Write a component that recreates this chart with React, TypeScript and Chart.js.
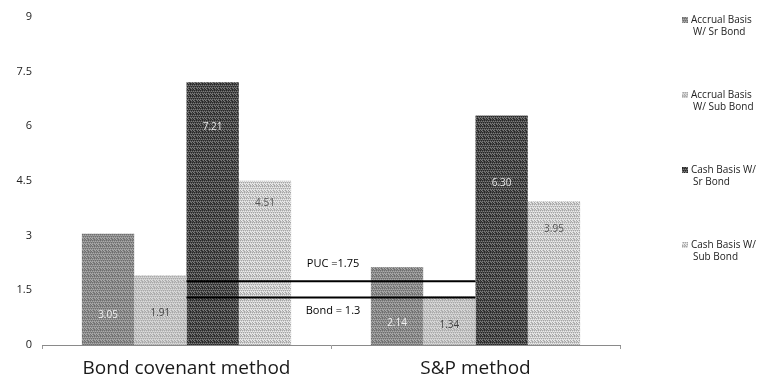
import React, { useEffect, useRef } from "react";
import { Chart, registerables } from "chart.js";
Chart.register(...registerables);

const categories = ["Bond covenant method", "S&P method"];
const seriesNames = [
  "Accrual Basis W/ Sr Bond",
  "Accrual Basis W/ Sub Bond",
  "Cash Basis W/ Sr Bond",
  "Cash Basis W/ Sub Bond",
];
const accrualSr = [3.05, 2.14];
const accrualSub = [1.91, 1.34];
const cashSr = [7.21, 6.3];
const cashSub = [4.51, 3.95];
const valueText = [
  ["3.05", "2.14"],
  ["1.91", "1.34"],
  ["7.21", "6.30"],
  ["4.51", "3.95"],
];
const pucLevel = [1.75, 1.75];
const bondLevel = [1.3, 1.3];
const refLabels = ["PUC =1.75", "Bond = 1.3"];
const legendLines = [
  ["Accrual Basis", "W/ Sr Bond"],
  ["Accrual Basis", "W/ Sub Bond"],
  ["Cash Basis W/", "Sr Bond"],
  ["Cash Basis W/", "Sub Bond"],
];
const yMin = 0;
const yMax = 9;
const yStep = 1.5;

function makePattern(ctx: CanvasRenderingContext2D, base: string, dark: string, light: string) {
  const c = document.createElement("canvas");
  c.width = 6;
  c.height = 6;
  const g = c.getContext("2d")!;
  g.fillStyle = base;
  g.fillRect(0, 0, 6, 6);
  g.fillStyle = dark;
  [[0, 0], [2, 0], [4, 0], [1, 2], [3, 2], [5, 2], [0, 4], [3, 4], [4, 5], [1, 5]].forEach(([x, y]) => g.fillRect(x, y, 1, 1));
  g.fillStyle = light;
  [[1, 1], [3, 1], [5, 1], [0, 3], [2, 3], [4, 3], [1, 4], [5, 4], [2, 5]].forEach(([x, y]) => g.fillRect(x, y, 1, 1));
  return ctx.createPattern(c, "repeat")!;
}

// label anchor positions (in value units) inside bars, as placed in the original
const labelAnchor = [
  [0.82, 0.6],
  [0.88, 0.55],
  [5.98, 4.45],
  [3.9, 3.18],
];
const labelColors = ["#f2f2f2", "#444444", "#e6e6e6", "#555555"];

const overlayPlugin = {
  id: "overlay",
  afterDatasetsDraw(chart: any) {
    const ctx = chart.ctx;
    const y = chart.scales.y;
    ctx.save();
    ctx.textAlign = "center";
    ctx.textBaseline = "middle";
    ctx.font = "10px 'Open Sans'";
    for (let i = 0; i < 4; i++) {
      const meta = chart.getDatasetMeta(i);
      meta.data.forEach((bar: any, j: number) => {
        ctx.fillStyle = labelColors[i];
        ctx.fillText(valueText[i][j], bar.x, y.getPixelForValue(labelAnchor[i][j]));
      });
    }
    ctx.fillStyle = "#000";
    ctx.font = "11px 'Open Sans'";
    [4, 5].forEach((di, k) => {
      const meta = chart.getDatasetMeta(di);
      const p0 = meta.data[0];
      const p1 = meta.data[1];
      if (!p0 || !p1) return;
      const mx = (p0.x + p1.x) / 2 + 2;
      const py = p0.y + (k === 0 ? -17 : 13);
      ctx.fillText(refLabels[k], mx, py);
    });
    ctx.restore();
  },
  afterDraw(chart: any, _args: any, opts: any) {
    const ctx = chart.ctx;
    const pats = opts.pats || [];
    ctx.save();
    ctx.font = "10px 'Open Sans'";
    ctx.textBaseline = "middle";
    ctx.textAlign = "left";
    for (let i = 0; i < 4; i++) {
      const top = 20 + i * 75;
      ctx.fillStyle = pats[i] || "#888";
      ctx.fillRect(682, top - 3, 6, 6);
      ctx.fillStyle = "#222";
      ctx.fillText(legendLines[i][0], 691, top);
      ctx.fillText(legendLines[i][1], 693, top + 12);
    }
    ctx.restore();
  },
};

export default function App() {
  const ref = useRef<HTMLCanvasElement>(null);
  useEffect(() => {
    document.body.style.margin = "0";
    const canvas = ref.current!;
    const ctx = canvas.getContext("2d")!;
    const pats = [
      makePattern(ctx, "#8c8c8c", "#6e6e6e", "#ababab"),
      makePattern(ctx, "#c4c4c4", "#a9a9a9", "#dcdcdc"),
      makePattern(ctx, "#4c4c4c", "#262626", "#7c7c7c"),
      makePattern(ctx, "#cdcdcd", "#a6a6a6", "#ececec"),
    ];
    const barData = [accrualSr, accrualSub, cashSr, cashSub];
    const chart: any = new Chart(ctx, {
      type: "bar",
      data: {
        labels: categories,
        datasets: [
          ...barData.map((d, i) => ({
            type: "bar" as const,
            label: seriesNames[i],
            data: d,
            backgroundColor: pats[i],
            borderWidth: 0,
            barPercentage: 1,
            categoryPercentage: 0.724,
            order: 2,
          })),
          {
            type: "line" as const,
            label: refLabels[0],
            data: pucLevel,
            borderColor: "#000",
            borderWidth: 2,
            pointRadius: 0,
            order: 0,
          },
          {
            type: "line" as const,
            label: refLabels[1],
            data: bondLevel,
            borderColor: "#000",
            borderWidth: 2,
            pointRadius: 0,
            order: 0,
          },
        ] as any,
      },
      options: {
        responsive: false,
        animation: false,
        layout: { padding: { top: 17, right: 149, left: 0, bottom: 0 } },
        plugins: { legend: { display: false }, tooltip: { enabled: false }, overlay: { pats } } as any,
        scales: {
          x: {
            offset: true,
            afterFit: (s: any) => { s.height = 38; },
            grid: { display: true, drawOnChartArea: false, tickLength: 4, color: "#9a9a9a", offset: true },
            border: { display: true, color: "#8a8a8a", width: 1 },
            ticks: { font: { family: "'Open Sans'", size: 19 }, color: "#1a1a1a", padding: 8 },
          },
          y: {
            min: yMin,
            max: yMax,
            afterFit: (s: any) => { s.width = 42; },
            grid: { display: false, drawTicks: false },
            border: { display: false },
            ticks: {
              stepSize: yStep,
              padding: 10,
              font: { family: "'Open Sans'", size: 11 },
              color: "#222",
              callback: (v: any) => String(v),
            },
          },
        },
      },
      plugins: [overlayPlugin],
    });
    return () => chart.destroy();
  }, []);
  return (
    <div style={{ width: 769, height: 383 }}>
      <canvas ref={ref} width={769} height={383} style={{ display: "block" }} />
    </div>
  );
}
